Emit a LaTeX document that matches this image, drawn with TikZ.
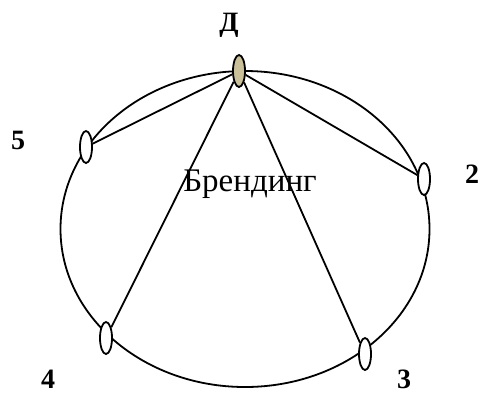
\documentclass[tikz,border=0pt]{standalone}
\usepackage{fontspec}
\setmainfont{Liberation Serif}
\usetikzlibrary{shapes.geometric}
\definecolor{sand}{HTML}{C9C09A}
\tikzset{
  pt/.style={draw,ellipse,line width=0.9pt,fill=white,inner sep=0pt,minimum width=6pt,minimum height=16pt},
  dpt/.style={pt,fill=sand},
  num/.style={font=\fontsize{14}{16}\selectfont\bfseries,inner sep=1pt},
  ln/.style={line width=0.9pt},
}
\begin{document}
\begin{tikzpicture}[x=0.5pt,y=-0.5pt]
\useasboundingbox (0,0) rectangle (480,392);
\draw[ln] (245,229) ellipse [x radius=184.5, y radius=158];
\node[anchor=base,font=\fontsize{16.5}{18}\selectfont] (brand) at (250,191) {Брендинг};
\node[dpt] (d) at (239,71) {};
\node[pt] (n2) at (424,179) {};
\node[pt] (n3) at (365,354) {};
\node[pt] (n4) at (106,338) {};
\node[pt] (n5) at (86,147) {};
\draw[ln] (d) -- (n5); \draw[ln] (d) -- (n4);
\draw[ln] (d) -- (n3); \draw[ln] (d) -- (n2);
% labels
\node[num] (ld) at (229,25) {Д};
\node[num] (l2) at (472,174) {2};
\node[num] (l3) at (404,379) {3};
\node[num] (l4) at (48,379) {4};
\node[num] (l5) at (18,140) {5};
\end{tikzpicture}
\end{document}
